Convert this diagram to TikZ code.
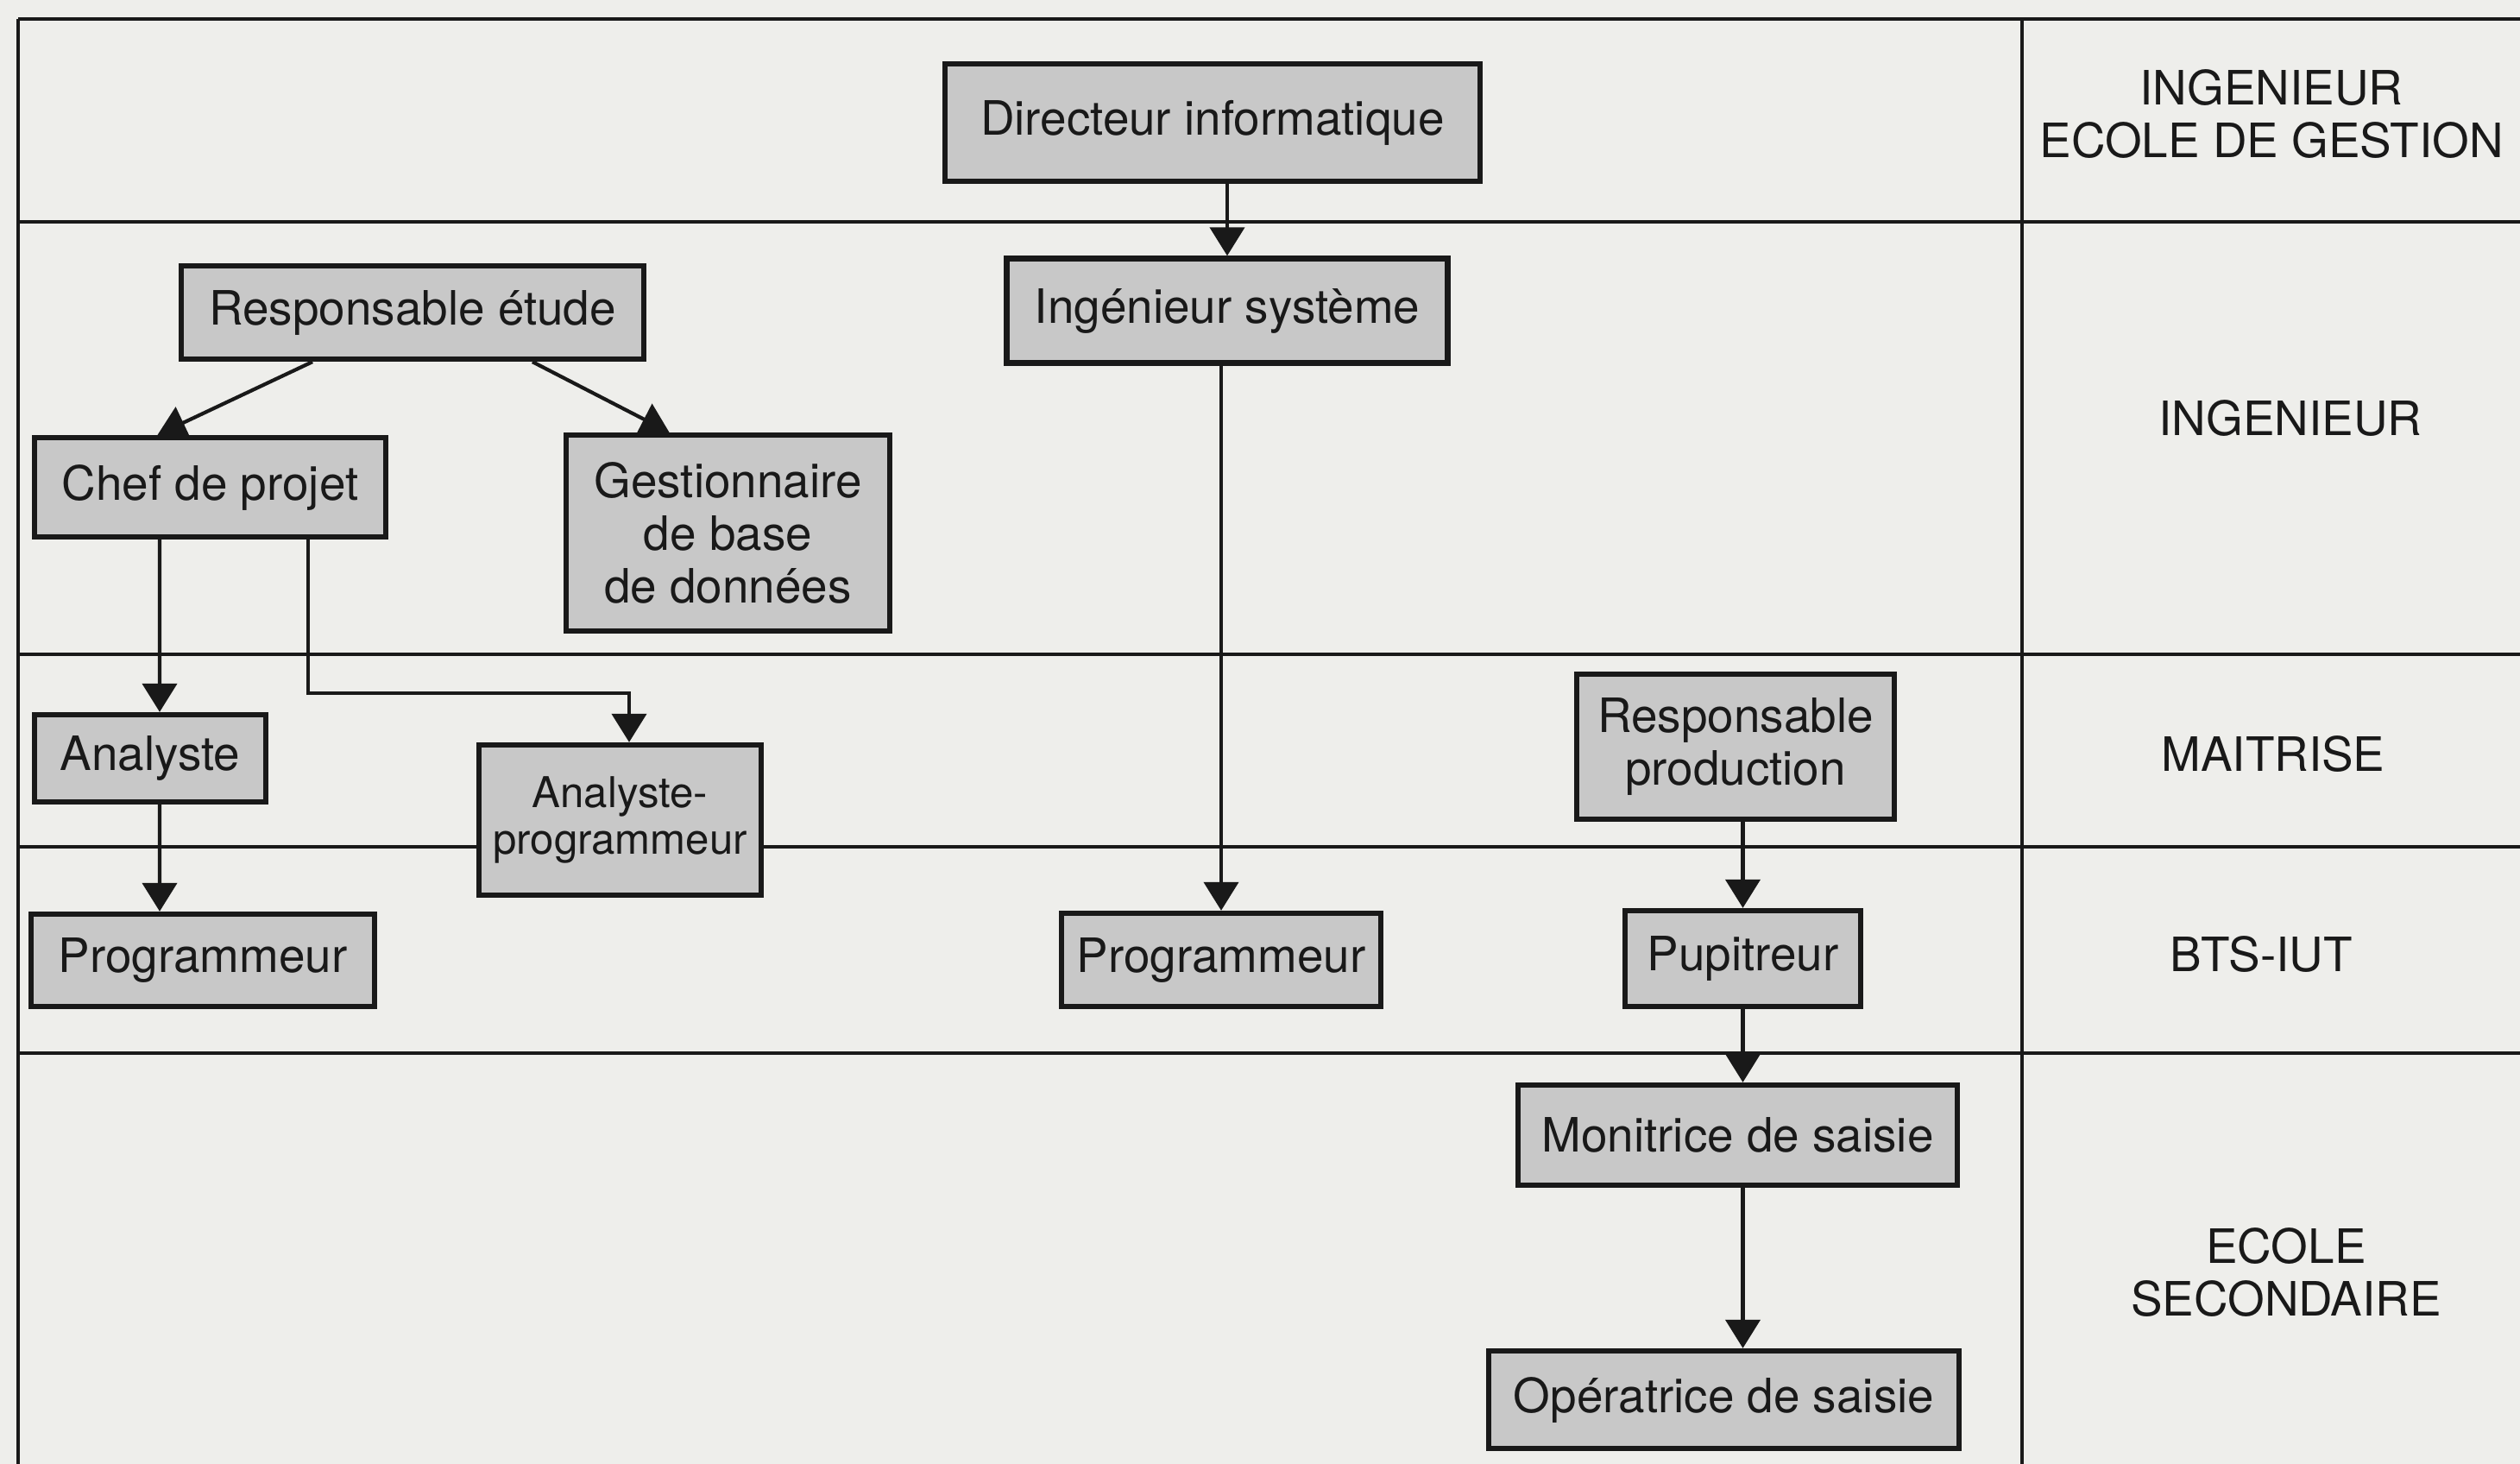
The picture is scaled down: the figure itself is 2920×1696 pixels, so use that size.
\documentclass[tikz,border=0pt]{standalone}
\usepackage{fontspec}
\setmainfont{TeX Gyre Heros}
\usetikzlibrary{arrows.meta}
\definecolor{paper}{RGB}{238,238,235}
\definecolor{boxgray}{RGB}{200,200,200}
\definecolor{ink}{RGB}{25,25,25}

\begin{document}
\begin{tikzpicture}[x=0.1mm,y=-0.1mm,
  box/.style={draw=ink,line width=1.8pt,fill=boxgray,text=ink,align=center,
    inner sep=0pt,font=\fontsize{15.6}{17.4}\selectfont},
  grade/.style={text=ink,align=center,font=\fontsize{15.6}{17.4}\selectfont},
  rule/.style={draw=ink,line width=1.2pt},
  arr/.style={draw=ink,line width=1.2pt,-{Triangle[width=4mm,length=3.3mm]}}]

\fill[paper] (0,0) rectangle (2920,1696);
\useasboundingbox (0,0) rectangle (2920,1696);

\foreach \y in {22,257,758,981,1220}
  \draw[rule] (21,\y) -- (2920,\y);
\draw[rule] (21,22) -- (21,1696);
\draw[ink,line width=0.9pt] (2343,22) -- (2343,1696);

\node[grade] (g1) at (2632,132) {INGENIEUR\\ECOLE DE GESTION};
\node[grade] (g2) at (2654,485) {INGENIEUR};
\node[grade] (g3) at (2634,874) {MAITRISE};
\node[grade] (g4) at (2620,1106) {BTS-IUT};
\node[grade] (g5) at (2649,1474) {ECOLE\\SECONDAIRE};

\node[box,minimum width=6.2cm,minimum height=1.36cm] (dir) at (1405,142) {Directeur informatique};
\node[box,minimum width=5.11cm,minimum height=1.21cm] (isys) at (1422,360) {Ingénieur système};
\node[box,minimum width=5.36cm,minimum height=1.08cm] (retu) at (478,362) {Responsable étude};
\node[box,minimum width=4.07cm,minimum height=1.15cm] (chef) at (243.5,564.5) {Chef de projet};
\node[box,minimum width=3.75cm,minimum height=2.27cm] (gbd) at (843.5,617.5) {Gestionnaire\\de base\\de données};
\node[box,minimum width=2.68cm,minimum height=1.01cm] (ana) at (174,878.5) {Analyste};
\node[box,minimum width=3.98cm,minimum height=1.07cm] (prog1) at (235,1112.5) {Programmeur};
\node[box,minimum width=3.27cm,minimum height=1.74cm,font=\fontsize{14}{15.4}\selectfont] (anap) at (718.5,950) {Analyste-\\programmeur};
\node[box,minimum width=3.7cm,minimum height=1.08cm] (prog2) at (1415,1112) {Programmeur};
\node[box,minimum width=3.68cm,minimum height=1.68cm] (rprod) at (2011,865) {Responsable\\production};
\node[box,minimum width=2.73cm,minimum height=1.11cm] (pup) at (2019.5,1110.5) {Pupitreur};
\node[box,minimum width=5.09cm,minimum height=1.16cm] (mon) at (2013.5,1315) {Monitrice de saisie};
\node[box,minimum width=5.45cm,minimum height=1.13cm] (op) at (1997.5,1621.5) {Opératrice de saisie};

\coordinate (bend) at (729,803);

\draw[arr] (dir.south -| isys) -- (isys.north);
\draw[arr] (isys.south -| prog2) -- (prog2.north);
\draw[arr] ([xshift=-1.16cm]retu.south) -- ([xshift=-0.61cm]chef.north);
\draw[arr] ([xshift=1.39cm]retu.south) -- ([xshift=-0.68cm]gbd.north);
\draw[arr] ([xshift=-0.585cm]chef.south) -- ([xshift=0.11cm]ana.north);
\draw[arr] ([xshift=0.11cm]ana.south) -- ([xshift=-0.5cm]prog1.north);
\draw[arr] ([xshift=1.135cm]chef.south) |- (bend) -- (bend |- anap.north);
\draw[arr] (pup.north |- rprod.south) -- (pup.north);
\draw[arr] (pup.south) -- (pup.south |- mon.north);
\draw[arr] (pup.south |- mon.south) -- (pup.south |- op.north);
\end{tikzpicture}
\end{document}
